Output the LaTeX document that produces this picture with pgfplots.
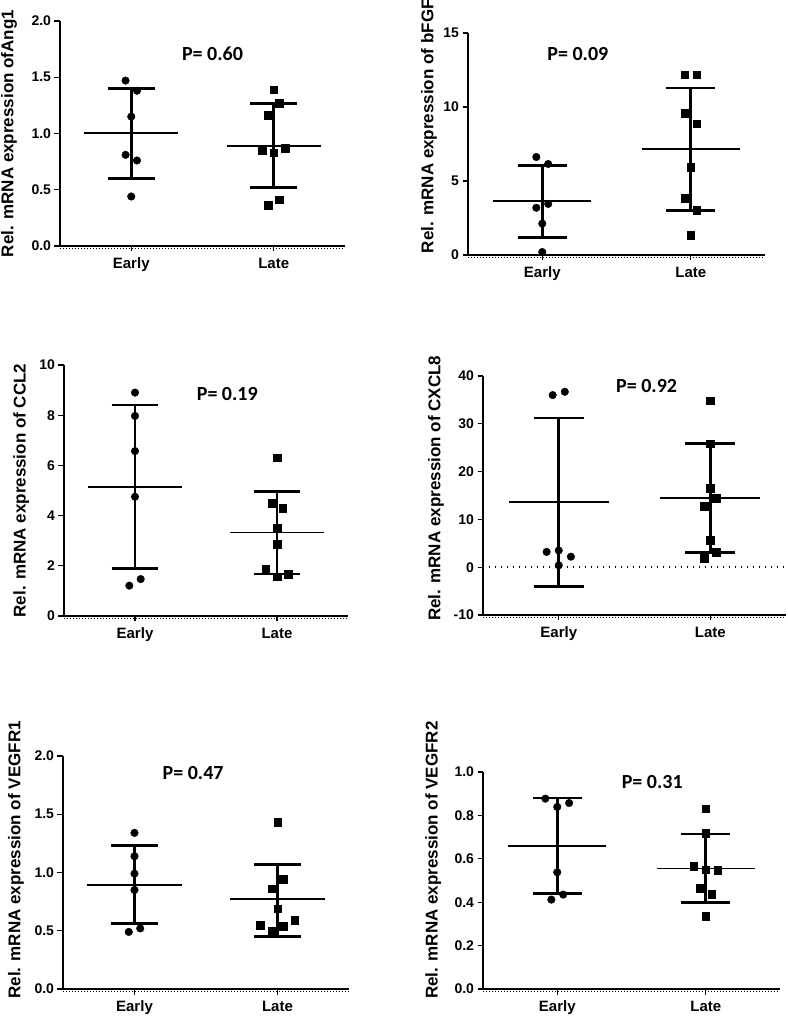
\documentclass[border=0pt]{standalone}
\usepackage{fontspec}
\setmainfont{Liberation Sans}
\newfontfamily\pfont{Carlito}
\usepackage{pgfplots}
\pgfplotsset{compat=1.18}
\pgfplotsset{
  panel/.style={
    scale only axis,
    axis x line=bottom, axis y line=left,
    axis line style={-, line width=1.7pt},
    xmin=-0.5, xmax=1.5,
    xtick={0,1}, xticklabels={Early,Late},
    tick align=outside, major tick length=5.5pt,
    tick style={black, line width=1.3pt},
    minor tick num=0,
    xticklabel style={font=\fontsize{15}{17}\selectfont\bfseries, yshift=-3pt},
    yticklabel style={font=\fontsize{14}{16}\selectfont\bfseries},
    /pgf/number format/assume math mode=true,
    ylabel style={font=\fontsize{17}{20}\selectfont\bfseries, anchor=center},
    clip=false,
    after end axis/.code={\draw[black, line width=0.7pt, dash pattern=on 0.7pt off 2.3pt] ([yshift=-2.2pt]rel axis cs:0,0) -- ([yshift=-2.2pt]rel axis cs:1,0);},
  },
  early/.style={only marks, mark=*, mark size=3.8pt, black},
  late/.style={only marks, mark=square*, mark size=3.8pt, black},
  onedec/.style={yticklabel style={/pgf/number format/.cd, fixed, fixed zerofill, precision=1}},
}
\newcommand{\msdE}[3]{%
  \addplot[black, line width=1.8pt] coordinates {(-0.33,#1) (0.33,#1)};
  \addplot[black, line width=2.6pt] coordinates {(0,#2) (0,#3)};
  \addplot[black, line width=2.8pt] coordinates {(-0.165,#2) (0.165,#2)};
  \addplot[black, line width=2.8pt] coordinates {(-0.165,#3) (0.165,#3)};
}
\newcommand{\msdL}[3]{%
  \addplot[black, line width=1.8pt] coordinates {(0.67,#1) (1.33,#1)};
  \addplot[black, line width=2.6pt] coordinates {(1,#2) (1,#3)};
  \addplot[black, line width=2.8pt] coordinates {(0.835,#2) (1.165,#2)};
  \addplot[black, line width=2.8pt] coordinates {(0.835,#3) (1.165,#3)};
}
\newcommand{\ptext}{\fontsize{20}{24}\selectfont\pfont\bfseries}
\begin{document}
\begin{tikzpicture}
\useasboundingbox (0,0) rectangle (787pt,1019pt);
% Panel 1: Ang1
\begin{axis}[panel, onedec, at={(60pt,773pt)}, anchor=south west, width=285pt, height=225pt,
  ymin=0, ymax=2, ytick={0,0.5,1,1.5,2},
  ylabel={Rel. mRNA expression ofAng1}, ylabel style={at={(axis description cs:-0.179,0.5)}}]
\msdE{1.004}{1.40}{0.60}
\msdL{0.89}{1.27}{0.52}
\addplot[early] coordinates {(-0.04,1.47)(0.04,1.38)(0,1.15)(-0.04,0.81)(0.04,0.76)(0,0.44)};
\addplot[late] coordinates {(1,1.39)(1.04,1.27)(0.96,1.16)(0.92,0.85)(1,0.83)(1.08,0.87)(1.04,0.41)(0.96,0.36)};
\node[font=\ptext] at (axis cs:0.57,1.71) {P= 0.60};
\end{axis}
% Panel 2: bFGF
\begin{axis}[panel, at={(468pt,764pt)}, anchor=south west, width=297pt, height=222pt,
  ymin=0, ymax=15, ytick={0,5,10,15},
  ylabel={Rel. mRNA expression of bFGF}, ylabel style={at={(axis description cs:-0.131,0.58)}}]
\msdE{3.63}{6.06}{1.19}
\msdL{7.14}{11.28}{3.0}
\addplot[early] coordinates {(-0.04,6.62)(0.04,6.15)(-0.04,3.19)(0.04,3.45)(0,2.12)(0,0.2)};
\addplot[late] coordinates {(0.96,12.18)(1.04,12.18)(0.96,9.59)(1.04,8.87)(1,5.92)(0.96,3.85)(1.04,3.02)(1,1.35)};
\node[font=\ptext] at (axis cs:0.24,13.6) {P= 0.09};
\end{axis}
% Panel 3: CCL2
\begin{axis}[panel, at={(64pt,403pt)}, anchor=south west, width=284pt, height=251pt,
  ymin=0, ymax=10, ytick={0,2,4,6,8,10},
  ylabel={Rel. mRNA expression of CCL2}, ylabel style={at={(axis description cs:-0.151,0.5)}}]
\msdE{5.15}{8.41}{1.90}
\msdL{3.33}{4.95}{1.67}
\addplot[early] coordinates {(0,8.90)(0,7.97)(0,6.57)(0,4.75)(0.04,1.47)(-0.04,1.21)};
\addplot[late] coordinates {(1,6.31)(0.965,4.49)(1.04,4.29)(1,3.49)(1,2.87)(0.92,1.87)(1.08,1.67)(1,1.57)};
\node[font=\ptext] at (axis cs:0.65,8.84) {P= 0.19};
\end{axis}
% Panel 4: CXCL8
\begin{axis}[panel, at={(483pt,404pt)}, anchor=south west, width=303pt, height=239pt,
  ymin=-10, ymax=40, ytick={-10,0,10,20,30,40},
  ylabel={Rel. mRNA expression of CXCL8}, ylabel style={at={(axis description cs:-0.155,0.53)}}]
\addplot[black, line width=1.4pt, dash pattern=on 1.4pt off 4.6pt] coordinates {(-0.5,0) (1.5,0)};
\msdE{13.6}{31.2}{-4.0}
\msdL{14.4}{25.8}{3.0}
\addplot[early] coordinates {(-0.04,36.0)(0.04,36.7)(-0.08,3.2)(0,3.5)(0.08,2.2)(0,0.4)};
\addplot[late] coordinates {(1,34.8)(1,25.8)(1,16.5)(1.04,14.4)(0.96,12.7)(1,5.6)(1.04,3.1)(0.96,1.9)};
\node[font=\ptext] at (axis cs:0.58,37.98) {P= 0.92};
\end{axis}
% Panel 5: VEGFR1
\begin{axis}[panel, onedec, at={(63pt,30pt)}, anchor=south west, width=286pt, height=233pt,
  ymin=0, ymax=2, ytick={0,0.5,1,1.5,2},
  ylabel={Rel. mRNA expression of VEGFR1}, ylabel style={at={(axis description cs:-0.164,0.554)}}]
\msdE{0.89}{1.23}{0.56}
\msdL{0.77}{1.07}{0.45}
\addplot[early] coordinates {(0,1.34)(0,1.14)(0,0.99)(0,0.85)(-0.04,0.49)(0.04,0.52)};
\addplot[late] coordinates {(1,1.43)(1.04,0.94)(0.96,0.86)(1,0.69)(1.12,0.59)(0.88,0.55)(1.04,0.54)(0.96,0.50)};
\node[font=\ptext] at (axis cs:0.41,1.85) {P= 0.47};
\end{axis}
% Panel 6: VEGFR2
\begin{axis}[panel, onedec, at={(483pt,30pt)}, anchor=south west, width=297pt, height=217pt,
  ymin=0, ymax=1, ytick={0,0.2,0.4,0.6,0.8,1},
  ylabel={Rel. mRNA expression of VEGFR2}, ylabel style={at={(axis description cs:-0.168,0.594)}}]
\msdE{0.66}{0.88}{0.44}
\msdL{0.555}{0.714}{0.40}
\addplot[early] coordinates {(-0.08,0.877)(0,0.839)(0.08,0.857)(0,0.538)(-0.04,0.412)(0.04,0.435)};
\addplot[late] coordinates {(1,0.831)(1,0.719)(0.92,0.565)(1,0.55)(1.08,0.547)(0.96,0.465)(1.04,0.438)(1,0.335)};
\node[font=\ptext] at (axis cs:0.64,0.952) {P= 0.31};
\end{axis}
\end{tikzpicture}
\end{document}
